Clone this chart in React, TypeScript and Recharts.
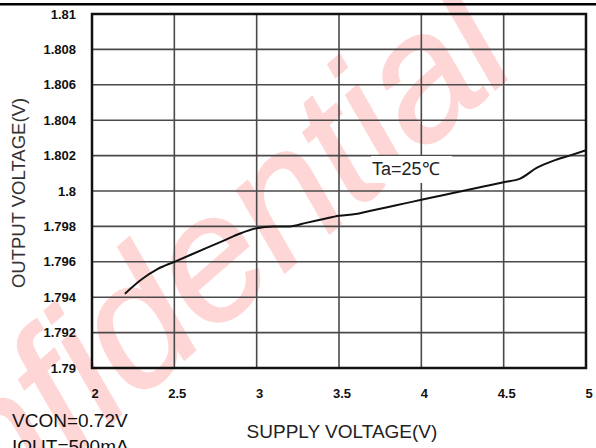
import { LineChart, Line, XAxis, YAxis, CartesianGrid, ReferenceArea } from 'recharts'

// supply voltage (V) vs output voltage (V), Ta=25°C
const supplyVoltage = [2.2, 2.3, 2.4, 2.5, 2.6, 2.7, 2.8, 2.9, 3.0, 3.1, 3.2, 3.3, 3.4, 3.5, 3.6, 3.7, 3.8, 3.9, 4.0, 4.1, 4.2, 4.3, 4.4, 4.5, 4.6, 4.7, 4.8, 4.9, 5.0]
const outputVoltage = [1.7942, 1.795, 1.7956, 1.796, 1.7964, 1.7968, 1.7972, 1.7976, 1.7979, 1.798, 1.798, 1.7982, 1.7984, 1.7986, 1.7987, 1.7989, 1.7991, 1.7993, 1.7995, 1.7997, 1.7999, 1.8001, 1.8003, 1.8005, 1.8007, 1.8013, 1.8017, 1.802, 1.8023]

const xTicks = [2, 2.5, 3, 3.5, 4, 4.5, 5]
const yTicks = [1.79, 1.792, 1.794, 1.796, 1.798, 1.8, 1.802, 1.804, 1.806, 1.808, 1.81]
const yTickLabels = ['1.79', '1.792', '1.794', '1.796', '1.798', '1.8', '1.802', '1.804', '1.806', '1.808', '1.81']

const chartData = supplyVoltage.map((v, i) => ({ vin: v, vout: outputVoltage[i] }))

const FONT = '"Liberation Sans", Arial, sans-serif'
const W = 596
const H = 448

export default function App() {
  const tickStyle = { fill: '#111', fontSize: 13, fontWeight: 700, fontFamily: FONT }

  return (
    <div style={{ position: 'absolute', left: 0, top: 0, width: W, height: H, background: '#fff', overflow: 'hidden' }}>
      {/* watermark */}
      <svg width={W} height={H} style={{ position: 'absolute', left: 0, top: 0 }}>
        <text
          x={-170}
          y={668}
          transform="rotate(-41 -170 668)"
          fontFamily={FONT}
          fontStyle="italic"
          fontSize={178}
          letterSpacing={-2}
          fill="#ffd6d6"
          stroke="#ffd6d6"
          strokeWidth={1.5}
        >
          Confidential
        </text>
      </svg>

      <div style={{ position: 'absolute', left: 0, top: 0 }}>
        <LineChart width={W} height={H} data={chartData} margin={{ top: 14, right: 10, left: 0, bottom: 0 }}>
          <CartesianGrid stroke="#4a4a4a" strokeWidth={1.6} />
          <XAxis
            dataKey="vin"
            type="number"
            domain={[2, 5]}
            ticks={xTicks}
            height={80}
            tickSize={0}
            tickMargin={21}
            tickLine={false}
            axisLine={false}
            tick={{ ...tickStyle, dx: 3 }}
            interval={0}
          />
          <YAxis
            type="number"
            domain={[1.79, 1.81]}
            ticks={yTicks}
            width={92}
            tickSize={0}
            tickMargin={16}
            tickLine={false}
            axisLine={false}
            tick={tickStyle}
            interval={0}
            tickFormatter={(v: number) => yTickLabels[yTicks.indexOf(v)] ?? String(v)}
          />
          <ReferenceArea x1={2} x2={5} y1={1.79} y2={1.81} fill="none" stroke="#111" strokeWidth={2.5} />
          <Line
            type="monotone"
            dataKey="vout"
            stroke="#111"
            strokeWidth={2}
            dot={false}
            isAnimationActive={false}
          />
        </LineChart>
      </div>

      {/* titles and notes */}
      <svg width={W} height={H} style={{ position: 'absolute', left: 0, top: 0, pointerEvents: 'none' }}>
        <rect x={0} y={3} width={W} height={2.5} fill="#000" />
        <text
          x={25}
          y={193}
          transform="rotate(-90 25 193)"
          textAnchor="middle"
          fontFamily={FONT}
          fontSize={18.5}
          fill="#333"
        >
          OUTPUT VOLTAGE(V)
        </text>
        <text x={342} y={438} textAnchor="middle" fontFamily={FONT} fontSize={19} fill="#222">
          SUPPLY VOLTAGE(V)
        </text>
        <rect x={371} y={156} width={81} height={27} fill="#fff" />
        <text x={372} y={175} fontFamily={FONT} fontSize={18} fill="#222">
          Ta=25℃
        </text>
        <text x={12} y={427} fontFamily={FONT} fontSize={19} fill="#111">
          VCON=0.72V
        </text>
        <text x={12} y={453} fontFamily={FONT} fontSize={19} fill="#111">
          IOUT=500mA
        </text>
      </svg>
    </div>
  )
}
